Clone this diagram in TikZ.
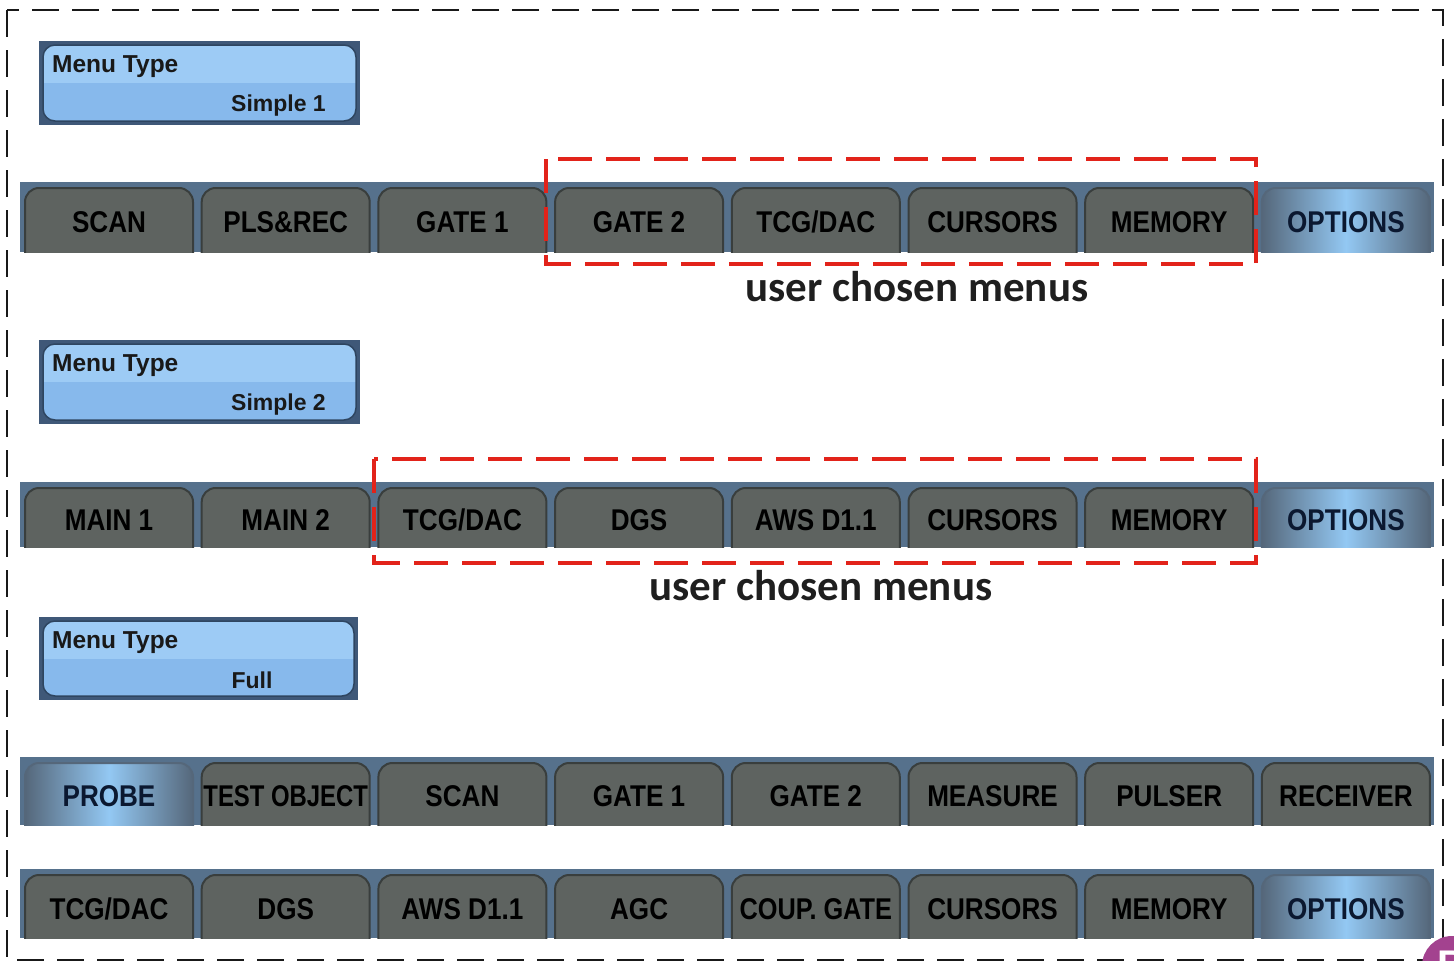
\documentclass[tikz,border=0pt]{standalone}
\usepackage{graphicx}
\usepackage{fontspec}
\setmainfont{Liberation Sans}
\newfontfamily\tabfont[FakeStretch=0.87]{Liberation Sans Bold}
\newfontfamily\menufont{Liberation Sans Bold}
\newfontfamily\calib{Carlito}
\definecolor{barblue}{HTML}{56718C}
\definecolor{tabgray}{HTML}{5E6360}
\definecolor{tabedge}{HTML}{393E3D}
\definecolor{hiedge}{HTML}{55677A}
\definecolor{hicenter}{HTML}{93C8F3}
\definecolor{boxframe}{HTML}{3F5878}
\definecolor{boxtop}{HTML}{9DCBF5}
\definecolor{boxbot}{HTML}{87B9EC}
\definecolor{boxedge}{HTML}{2E4560}
\definecolor{redbox}{HTML}{E2231A}
\definecolor{navytext}{HTML}{0B1830}
\definecolor{logopurple}{HTML}{A3428F}
\tikzset{
  tabshape/.style={draw=tabedge, line width=2pt, fill=tabgray, rounded corners=14pt},
  hitabshape/.style={draw=hiedge, line width=2pt, left color=hiedge, right color=hiedge, middle color=hicenter, rounded corners=14pt},
  tabtext/.style={anchor=base, inner sep=0pt, font=\tabfont\fontsize{30}{30}\selectfont, text=black},
  hitabtext/.style={tabtext, text=navytext},
  redsel/.style={draw=redbox, line width=3.5pt, dash pattern=on 34pt off 14pt},
  outer/.style={draw=black!90, line width=2.8pt, dash pattern=on 27pt off 13pt},
  menulabel/.style={inner sep=0pt, font=\menufont\fontsize{24.5}{24.5}\selectfont, text=black!90},
  menuvalue/.style={inner sep=0pt, font=\menufont\fontsize{23}{23}\selectfont, text=black!90},
  userlabel/.style={inner sep=0pt, font=\calib\bfseries\fontsize{43}{43}\selectfont, text=black!88},
}
% #1 name, #2 top, #3 bottom, #4 list, #5 highlighted index
\newcommand\tabrow[5]{%
  \fill[barblue] (20,#2) rectangle (1434,#3);
  \begin{scope}
    \clip (20,#2) rectangle (1434,#3);
    \foreach \lab [count=\i from 0] in {#4} {
      \pgfmathsetmacro\xl{25+\i*176.7}
      \pgfmathsetmacro\xc{\xl+84}
      \pgfmathsetmacro\yb{(#2+#3)/2+15.5}
      \ifnum\i=#5\relax
        \path[hitabshape] (\xl,#2+6) rectangle (\xl+168,#3+20);
        \node[hitabtext] (#1-\i) at (\xc,\yb) {\lab};
      \else
        \path[tabshape] (\xl,#2+6) rectangle (\xl+168,#3+20);
        \node[tabtext] (#1-\i) at (\xc,\yb) {\lab};
      \fi
    }
  \end{scope}
}
% #1 name, #2 x1, #3 y1, #4 x2, #5 y2
\newcommand\menubox[5]{%
  \fill[boxframe] (#2,#3) rectangle (#4,#5);
  \begin{scope}
    \clip[rounded corners=12pt] (#2+4,#3+4) rectangle (#4-4,#5-4);
    \fill[boxbot] (#2,#3) rectangle (#4,#5);
    \fill[boxtop] (#2,#3) rectangle (#4,{(#3+#5)/2});
  \end{scope}
  \draw[boxedge, line width=1.5pt, rounded corners=12pt] (#2+4,#3+4) rectangle (#4-4,#5-4);
  \node[menulabel, anchor=base west] (#1-title) at (#2+13,#3+31) {Menu Type};
}
\begin{document}
\begin{tikzpicture}[x=1pt,y=-1pt]
\useasboundingbox (0,0) rectangle (1454,961);

% menu type boxes
\menubox{mb1}{39}{41}{360}{125}
\node[menuvalue, anchor=base east] (mb1-val) at (326,111) {Simple 1};
\menubox{mb2}{39}{340}{360}{424}
\node[menuvalue, anchor=base east] (mb2-val) at (326,410) {Simple 2};
\menubox{mb3}{39}{617}{358}{700}
\node[menuvalue, anchor=base] (mb3-val) at (252,688) {Full};

% tab rows
\tabrow{ra}{182}{252}{SCAN,PLS\&REC,GATE 1,GATE 2,TCG/DAC,CURSORS,MEMORY,OPTIONS}{7}
\tabrow{rb}{482}{547}{MAIN 1,MAIN 2,TCG/DAC,DGS,AWS D1.1,CURSORS,MEMORY,OPTIONS}{7}
\tabrow{rc}{757}{825}{PROBE,{\scalebox{0.915}[1]{TEST OBJECT}},SCAN,GATE 1,GATE 2,MEASURE,PULSER,RECEIVER}{0}
\tabrow{rd}{869}{938}{TCG/DAC,DGS,AWS D1.1,AGC,{\scalebox{0.97}[1]{COUP. GATE}},CURSORS,MEMORY,OPTIONS}{7}

% selections
\draw[redsel] (546,159) rectangle (1256,264);
\node[userlabel] (lab1) at (917,287) {user chosen menus};
\draw[redsel] (374,459) rectangle (1256,563);
\node[userlabel] (lab2) at (821,586) {user chosen menus};

% outer dashed frame
\draw[outer] (7,10) rectangle (1443,960);

% corner logo
\begin{scope}
  \clip (0,0) rectangle (1454,961);
  \fill[logopurple] (1452,966) circle (30);
  \node[inner sep=0pt, text=white, font=\bfseries\fontsize{40}{40}\selectfont, anchor=base] (logo) at (1452,978) {B};
\end{scope}
\end{tikzpicture}
\end{document}
